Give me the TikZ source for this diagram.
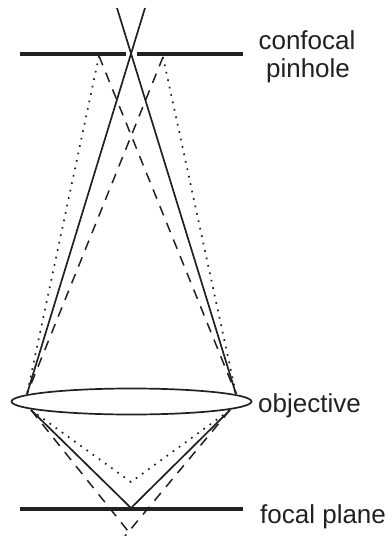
\documentclass[tikz,border=0pt]{standalone}
\usepackage{fontspec}
\setmainfont{Liberation Sans}
\usetikzlibrary{shapes.geometric}
\definecolor{ink}{gray}{0.13}
\tikzset{
  bar/.style={line width=3.8pt,color=ink},
  ray/.style={line width=1.7pt,color=ink},
  dashray/.style={line width=1.5pt,color=ink,dash pattern=on 10pt off 8pt},
  dotray/.style={line width=1.7pt,color=ink,dash pattern=on 1.7pt off 5.9pt},
  lab/.style={font=\fontsize{26pt}{30pt}\selectfont,inner sep=0pt,text=ink},
  lens/.style={draw=ink,line width=1.7pt,fill=white,ellipse,minimum width=240pt,minimum height=26pt,inner sep=0pt}
}
\begin{document}
\begin{tikzpicture}[x=1pt,y=-1pt]
\useasboundingbox (0,0) rectangle (388,536);
% named points
\coordinate (topA) at (117,8);
\coordinate (topB) at (145,8);
\coordinate (upL) at (27,394);
\coordinate (upR) at (236,394);
\coordinate (lowL) at (31,410);
\coordinate (lowR) at (230,410);
\coordinate (focus) at (131,508);
\coordinate (dotF) at (131,482);
\coordinate (dashF) at (132,536);
\coordinate (dashG) at (125,536);
\coordinate (dashTL) at (99,56);
\coordinate (dashTR) at (163,57);
\coordinate (b1) at (20,54);\coordinate (b2) at (126,54);
\coordinate (b3) at (137,54);\coordinate (b4) at (243,54);
\coordinate (b5) at (20,509);\coordinate (b6) at (243,509);
% rays
\draw[ray] (topA) -- (upR);
\draw[ray] (topB) -- (upL);
\draw[dashray] (dashTL) -- (upR);
\draw[dashray] (dashTR) -- (upL);
\draw[dotray] (dashTL) -- (upL);
\draw[dotray] (dashTR) -- (upR);
% lens
\node[lens] (obj) at (131.5,401.5) {};
% below lens
\draw[ray] (lowL) -- (focus) -- (lowR);
\draw[dashray] (lowL) -- (dashF);
\draw[dashray] (lowR) -- (dashG);
\draw[dotray] (lowL) -- (dotF) -- (lowR);
% bars
\draw[bar] (b1) -- (b2);
\draw[bar] (b3) -- (b4);
\draw[bar] (b5) -- (b6);
% labels
\node[lab,anchor=base] (t1) at (307,49) {confocal};
\node[lab,anchor=base] (t2) at (308,77) {pinhole};
\node[lab,anchor=base west] (t3) at (258,412) {objective};
\node[lab,anchor=base west] (t4) at (260,523) {focal plane};
\end{tikzpicture}
\end{document}
